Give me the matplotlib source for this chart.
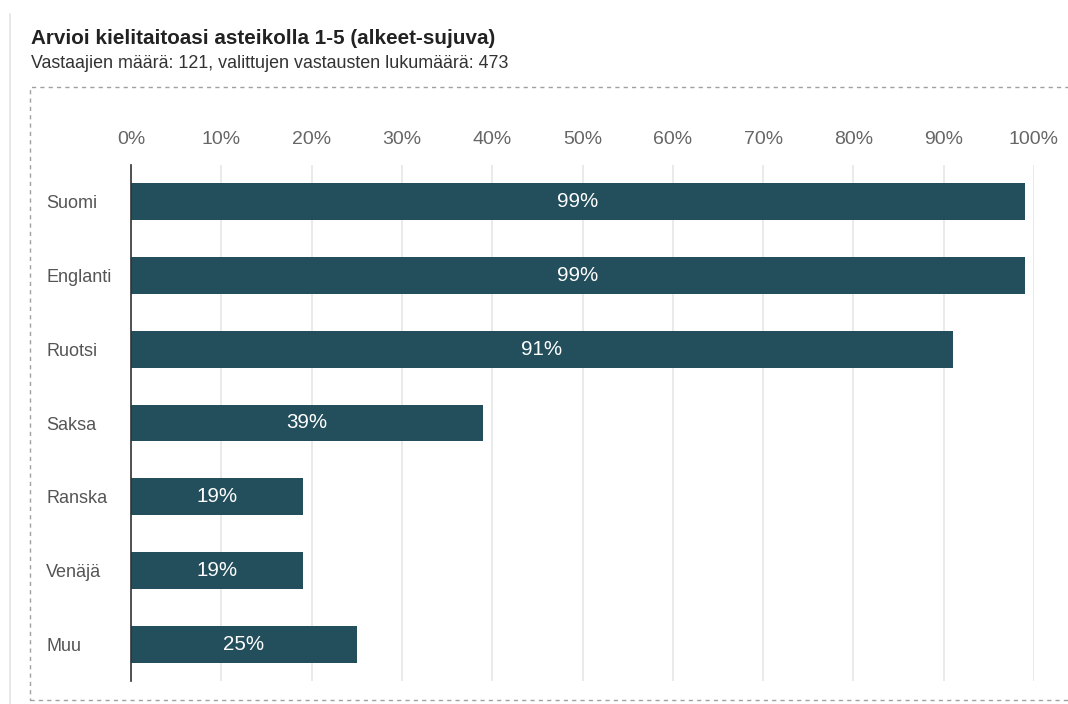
import matplotlib.pyplot as plt
from matplotlib.patches import Rectangle
from matplotlib.lines import Line2D

plt.rcParams['font.family'] = ['Liberation Sans', 'DejaVu Sans']

# kielet ja osuudet (%)
kielet = ['Suomi', 'Englanti', 'Ruotsi', 'Saksa', 'Ranska', 'Venäjä', 'Muu']
osuudet = [99, 99, 91, 39, 19, 19, 25]
x_ticks = list(range(0, 101, 10))

otsikko = 'Arvioi kielitaitoasi asteikolla 1-5 (alkeet-sujuva)'
alaotsikko = 'Vastaajien määrä: 121, valittujen vastausten lukumäärä: 473'

bar_color = '#234e5b'


def main():
    fig = plt.figure(figsize=(10.68, 7.04), dpi=100)
    W, H = 1068, 704

    # kortin reuna ja katkoviivalaatikko
    fig.add_artist(Line2D([10 / W, 10 / W], [0, 1 - 14 / H], color='#e4e4e4', lw=1.2))
    fig.add_artist(Rectangle((30 / W, 4 / H), 1.2, 1 - 87 / H - 4 / H, fill=False,
                             ec='#a0a0a0', lw=1.0, ls=(0, (3, 3))))

    fig.text(31 / W, 1 - 38 / H, otsikko, fontsize=14.9, fontweight='bold',
             color='#222222', va='center', ha='left')
    fig.text(31 / W, 1 - 63 / H, alaotsikko, fontsize=12.9, color='#333333',
             va='center', ha='left')

    ax = fig.add_axes([131 / W, 1 - 681 / H, 903 / W, 516 / H])
    y = list(range(len(kielet)))
    ax.barh(y, osuudet, height=0.5, color=bar_color, zorder=3)

    for yi, v in zip(y, osuudet):
        ax.text(v / 2, yi, f'{v}%', color='white', fontsize=14.8,
                ha='center', va='center', zorder=4)

    ax.set_xlim(0, 100)
    ax.set_ylim(len(kielet) - 0.5, -0.5)
    ax.set_xticks(x_ticks)
    ax.set_xticklabels([f'{t}%' for t in x_ticks])
    ax.xaxis.tick_top()
    ax.tick_params(axis='x', length=0, pad=12, labelsize=14, labelcolor='#666666')
    ax.set_yticks(y)
    ax.set_yticklabels(kielet, ha='left')
    ax.tick_params(axis='y', length=0, pad=61, labelsize=13, labelcolor='#555555')
    ax.grid(axis='x', color='#e6e6e6', lw=1.2, zorder=0)

    for s in ['top', 'right', 'bottom']:
        ax.spines[s].set_visible(False)
    ax.spines['left'].set_color('#333333')
    ax.spines['left'].set_linewidth(1.2)
    ax.spines['left'].set_zorder(5)

    fig.savefig('out.png', dpi=100)


if __name__ == '__main__':
    main()
